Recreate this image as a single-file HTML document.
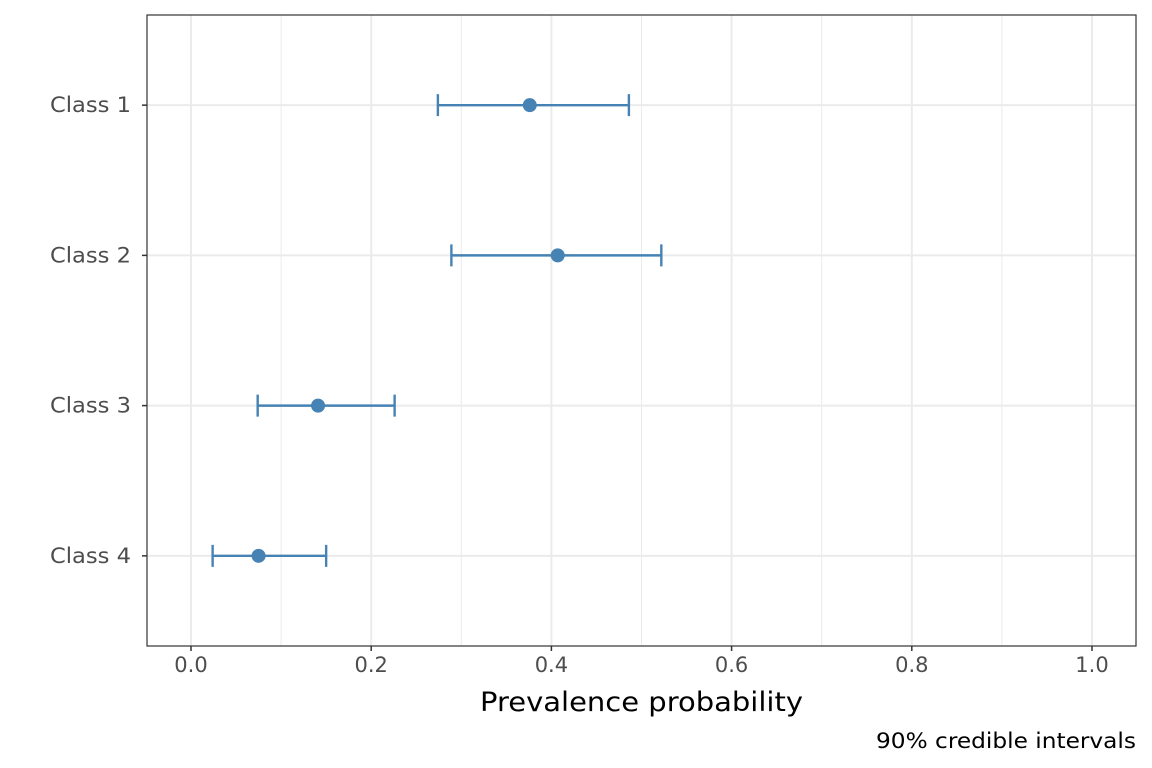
<!DOCTYPE html>
<html><head><meta charset="utf-8"><style>body{margin:0;background:#fff}svg{display:block;font-family:"DejaVu Sans","Liberation Sans",sans-serif}</style></head>
<body>
<svg id="chart" width="1152" height="768" xmlns="http://www.w3.org/2000/svg"></svg>
<script>
const categories = ["Class 1","Class 2","Class 3","Class 4"];
const estimates = [0.376, 0.407, 0.141, 0.075];
const lowers = [0.274, 0.289, 0.074, 0.024];
const uppers = [0.486, 0.522, 0.226, 0.150];
const xTicks = [0, 0.2, 0.4, 0.6, 0.8, 1.0];
const xTickLabels = ["0.0","0.2","0.4","0.6","0.8","1.0"];

const NS="http://www.w3.org/2000/svg";
const svg=document.getElementById('chart');
const L=147,R=1136,T=15,B=646;
const x=v=>191+v*901;
const y=i=>T+(i+1-0.4)/4.2*(B-T);
function mk(tag,attrs,parent){const e=document.createElementNS(NS,tag);for(const k in attrs)e.setAttribute(k,attrs[k]);(parent||svg).appendChild(e);return e;}

const grid=mk('g',{});


for(let i=0;i<xTicks.length-1;i++){const m=(xTicks[i]+xTicks[i+1])/2;const g=mk('line',{x1:x(m),x2:x(m),y1:T,y2:B,stroke:'#ebebeb','stroke-width':1},grid);}
xTicks.forEach(v=>{const g=mk('line',{x1:x(v),x2:x(v),y1:T,y2:B,stroke:'#ebebeb','stroke-width':2},grid);});
categories.forEach((c,i)=>{const g=mk('line',{x1:L,x2:R,y1:y(i),y2:y(i),stroke:'#ebebeb','stroke-width':2},grid);});

const marks=mk('g',{});


categories.forEach((c,i)=>{
  const yy=y(i);
  const eb=mk('path',{d:`M${x(lowers[i])},${yy}H${x(uppers[i])}M${x(lowers[i])},${yy-11}V${yy+11}M${x(uppers[i])},${yy-11}V${yy+11}`,stroke:'#4682b4','stroke-width':2.4,fill:'none'},marks);
  
  
  const p=mk('circle',{cx:x(estimates[i]),cy:yy,r:7,fill:'#4682b4'},marks);
  
  
});

const frame=mk('rect',{x:L,y:T,width:R-L,height:B-T,fill:'none',stroke:'#333','stroke-width':1.2});



categories.forEach((c,i)=>{
  const t=mk('line',{x1:L-5,x2:L,y1:y(i),y2:y(i),stroke:'#333','stroke-width':1.5});
  
  
  const lb=mk('text',{x:131,y:y(i)+7,'text-anchor':'end','font-size':21,fill:'#4d4d4d',textLength:81,lengthAdjust:'spacingAndGlyphs'});
  lb.textContent=c;
  
  
});
xTicks.forEach((v,i)=>{
  const t=mk('line',{x1:x(v),x2:x(v),y1:B,y2:B+5,stroke:'#333','stroke-width':1.5});
  
  
  const lb=mk('text',{x:x(v),y:B+26,'text-anchor':'middle','font-size':21,fill:'#4d4d4d'});
  lb.textContent=xTickLabels[i];
  
  
});
const xt=mk('text',{x:480,y:711,'font-size':27,fill:'#000',textLength:323,lengthAdjust:'spacingAndGlyphs'});
xt.textContent='Prevalence probability';


const cap=mk('text',{x:876,y:748,'font-size':21,fill:'#000',textLength:260,lengthAdjust:'spacingAndGlyphs'});
cap.textContent='90% credible intervals';


</script>
</body></html>
